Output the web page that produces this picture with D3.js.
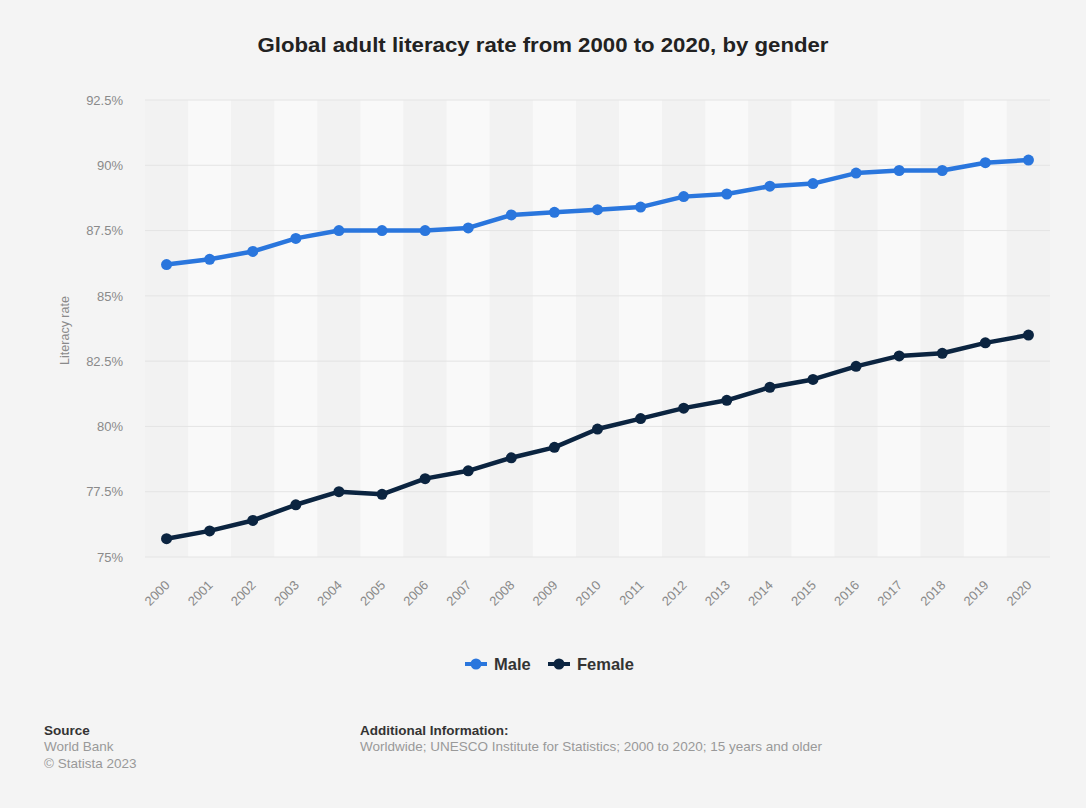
<!DOCTYPE html>
<html>
<head>
<meta charset="utf-8">
<script src="https://cdn.jsdelivr.net/npm/d3@7"></script>
<style>
  html, body { margin: 0; padding: 0; background: #f4f4f4; }
  svg { display: block; font-family: "Liberation Sans", Arial, Helvetica, sans-serif; }
</style>
</head>
<body>
<svg id="chart" width="1086" height="808"></svg>
<script>
// Years on the x axis
const years = [2000, 2001, 2002, 2003, 2004, 2005, 2006, 2007, 2008, 2009, 2010,
               2011, 2012, 2013, 2014, 2015, 2016, 2017, 2018, 2019, 2020];

// Adult literacy rate (%), by gender
const maleRate = [86.2, 86.4, 86.7, 87.2, 87.5, 87.5, 87.5, 87.6, 88.1, 88.2, 88.3,
                  88.4, 88.8, 88.9, 89.2, 89.3, 89.7, 89.8, 89.8, 90.1, 90.2];
const femaleRate = [75.7, 76.0, 76.4, 77.0, 77.5, 77.4, 78.0, 78.3, 78.8, 79.2, 79.9,
                    80.3, 80.7, 81.0, 81.5, 81.8, 82.3, 82.7, 82.8, 83.2, 83.5];

// Y axis tick values and labels
const yTicks = [75, 77.5, 80, 82.5, 85, 87.5, 90, 92.5];
const yTickLabels = ["75%", "77.5%", "80%", "82.5%", "85%", "87.5%", "90%", "92.5%"];

const seriesNames = ["Male", "Female"];
const seriesColors = ["#2a76dd", "#0b2440"];

const series = [
  { name: seriesNames[0], color: seriesColors[0], values: maleRate },
  { name: seriesNames[1], color: seriesColors[1], values: femaleRate }
];

const svg = d3.select("#chart");
const W = 1086, H = 808;

svg.append("rect").attr("width", W).attr("height", H).attr("fill", "#f4f4f4");

const plot = { left: 145, right: 1050, top: 100, bottom: 557 };

const x = d3.scaleBand()
  .domain(years)
  .range([plot.left, plot.right])
  .padding(0);

const y = d3.scaleLinear()
  .domain([75, 92.5])
  .range([plot.bottom, plot.top]);

const cx = d => x(d) + x.bandwidth() / 2;

// Title
svg.append("text")
  .attr("x", 543).attr("y", 52)
  .attr("text-anchor", "middle")
  .attr("font-size", 20.5)
  .attr("font-weight", "bold")
  .attr("fill", "#222")
  .attr("textLength", 571)
  .attr("lengthAdjust", "spacingAndGlyphs")
  .text("Global adult literacy rate from 2000 to 2020, by gender");

// Alternating column bands
svg.append("g")
  .selectAll("rect")
  .data(years)
  .join("rect")
  .attr("x", d => x(d))
  .attr("y", plot.top)
  .attr("width", x.bandwidth())
  .attr("height", plot.bottom - plot.top)
  .attr("fill", (d, i) => i % 2 === 0 ? "#f2f2f2" : "#f9f9f9");

// Horizontal grid lines
svg.append("g")
  .selectAll("line")
  .data(yTicks)
  .join("line")
  .attr("x1", plot.left).attr("x2", plot.right)
  .attr("y1", d => y(d)).attr("y2", d => y(d))
  .attr("stroke", "#e4e4e4")
  .attr("stroke-width", 1);

// Y axis
const yAxis = d3.axisLeft(y)
  .tickValues(yTicks)
  .tickSize(0)
  .tickPadding(0)
  .tickFormat((d, i) => yTickLabels[i]);

const yG = svg.append("g")
  .attr("transform", `translate(123,0)`)
  .call(yAxis);
yG.select(".domain").remove();
yG.selectAll("text")
  .attr("font-size", 13)
  .attr("fill", "#8a8a8a")
  .attr("font-family", "'Liberation Sans', Arial, sans-serif");

svg.append("text")
  .attr("transform", `translate(69,${(plot.top + plot.bottom) / 2 + 2}) rotate(-90)`)
  .attr("text-anchor", "middle")
  .attr("font-size", 12.5)
  .attr("fill", "#8a8a8a")
  .text("Literacy rate");

// X axis
const xAxis = d3.axisBottom(x).tickSize(0).tickPadding(0);
const xG = svg.append("g")
  .attr("transform", `translate(0,${plot.bottom})`)
  .call(xAxis);
xG.select(".domain").remove();
xG.selectAll("text")
  .attr("font-size", 13)
  .attr("fill", "#8a8a8a")
  .attr("font-family", "'Liberation Sans', Arial, sans-serif")
  .attr("text-anchor", "end")
  .attr("dy", null)
  .attr("transform", "translate(4,29) rotate(-45)");

// Lines and markers
const line = d3.line()
  .x((d, i) => cx(years[i]))
  .y(d => y(d));

series.forEach(s => {
  const g = svg.append("g");
  g.append("path")
    .datum(s.values)
    .attr("d", line)
    .attr("fill", "none")
    .attr("stroke", s.color)
    .attr("stroke-width", 4.5)
    .attr("stroke-linejoin", "round");
  g.selectAll("circle")
    .data(s.values)
    .join("circle")
    .attr("cx", (d, i) => cx(years[i]))
    .attr("cy", d => y(d))
    .attr("r", 5.5)
    .attr("fill", s.color);
});

// Legend
const legendItems = [
  { name: seriesNames[0], color: seriesColors[0], x: 465 },
  { name: seriesNames[1], color: seriesColors[1], x: 548 }
];
const lg = svg.append("g");
legendItems.forEach(item => {
  const it = lg.append("g").attr("transform", `translate(${item.x},664)`);
  it.append("line")
    .attr("x1", 0).attr("x2", 22)
    .attr("stroke", item.color).attr("stroke-width", 4);
  it.append("circle").attr("cx", 11).attr("r", 5.5).attr("fill", item.color);
  it.append("text")
    .attr("x", 29).attr("y", 6)
    .attr("font-size", 16.5)
    .attr("font-weight", "bold")
    .attr("fill", "#333")
    .text(item.name);
});

// Footer
const foot = svg.append("g").attr("font-size", 13.5);
foot.append("text").attr("x", 44).attr("y", 735)
  .attr("fill", "#333").attr("font-weight", "bold").attr("font-size", 13.5).text("Source");
foot.append("text").attr("x", 44).attr("y", 751)
  .attr("fill", "#999").text("World Bank");
foot.append("text").attr("x", 44).attr("y", 768)
  .attr("fill", "#999").text("© Statista 2023");
foot.append("text").attr("x", 360).attr("y", 735)
  .attr("fill", "#333").attr("font-weight", "bold").attr("font-size", 13.5).text("Additional Information:");
foot.append("text").attr("x", 360).attr("y", 751)
  .attr("fill", "#999").text("Worldwide; UNESCO Institute for Statistics; 2000 to 2020; 15 years and older");
</script>
</body>
</html>
